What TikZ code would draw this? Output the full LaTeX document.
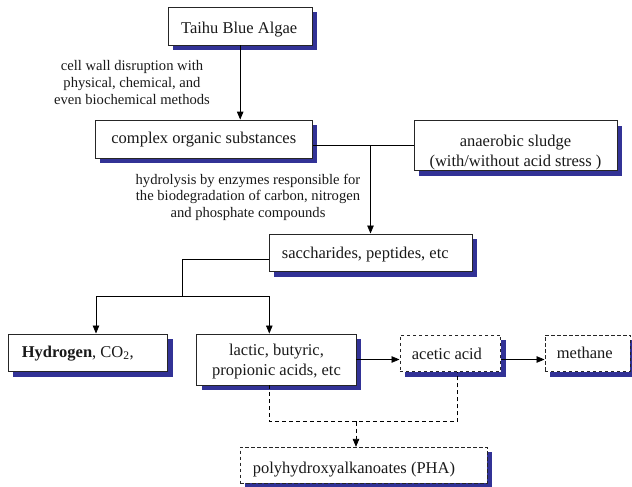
\documentclass[tikz,border=0pt]{standalone}
\usepackage{fontspec}
\setmainfont{Liberation Serif}
\usetikzlibrary{arrows.meta,shadows,calc}
\definecolor{shblue}{RGB}{50,50,150}
\begin{document}
\begin{tikzpicture}[x=1pt,y=-1pt,
  box/.style={draw=black!85, line width=0.9pt, fill=white, inner sep=0pt,
    drop shadow={shadow xshift=5pt, shadow yshift=-5pt, fill=shblue, opacity=1}},
  dbox/.style={box, dash pattern=on 3.5pt off 2.5pt},
  txt/.style={font=\fontsize{16.5}{20}\selectfont, inner sep=0pt, text=black!90, align=center},
  lbl/.style={font=\fontsize{14.6}{16.7}\selectfont, inner sep=0pt, text=black!90, align=center},
  conn/.style={line width=0.8pt},
  arr/.style={conn, -{Triangle[length=8pt,width=6.5pt]}},
  dconn/.style={conn, dash pattern=on 4pt off 3pt},
  darr/.style={arr, dash pattern=on 4pt off 3pt}]
\useasboundingbox (0,0) rectangle (632,487);

% boxes
\node[box, minimum width=143.7pt, minimum height=37.7pt] (T) at (240.2,26.2) {};
\node[box, minimum width=217.3pt, minimum height=38.3pt] (C) at (203.7,139.2) {};
\node[box, minimum width=203pt, minimum height=50pt] (S) at (515.5,145.7) {};
\node[box, minimum width=203pt, minimum height=37.7pt] (Sa) at (370.5,252.8) {};
\node[box, minimum width=159.4pt, minimum height=37.7pt] (H) at (88,352.8) {};
\node[box, minimum width=159.3pt, minimum height=51pt] (L) at (276.3,359.5) {};
\node[dbox, minimum width=100.7pt, minimum height=36.7pt] (A) at (450.3,353.3) {};
\node[dbox, minimum width=85.5pt, minimum height=36.7pt] (M) at (587.7,353.3) {};
\node[dbox, minimum width=247.3pt, minimum height=36pt] (P) at (363.7,465.3) {};

% texts (anchor base = baseline of the last line)
\node[txt, anchor=base] (tT) at (239.2,33.3) {Taihu Blue Algae};
\node[txt, anchor=base] (tC) at (203.8,143.3) {complex organic substances};
\node[txt, anchor=base] (tS) at (515.5,166) {anaerobic sludge\\(with/without acid stress )};
\node[txt, anchor=base west] (tSa) at (281.7,258.3) {saccharides, peptides, etc};
\node[txt, anchor=base west] (tH) at (21.7,357.3) {\textbf{Hydrogen}, CO\textsubscript{2},};
\node[txt, anchor=base] (tL) at (276.5,375.5) {lactic, butyric,\\propionic acids, etc};
\node[txt, anchor=base west] (tA) at (411.7,359.3) {acetic acid};
\node[txt, anchor=base west] (tM) at (556.7,358.3) {methane};
\node[txt, anchor=base west] (tP) at (252.7,473.3) {polyhydroxyalkanoates (PHA)};

\node[lbl, anchor=base] (l1) at (132,104) {cell wall disruption with\\physical, chemical, and\\even biochemical methods};
\node[lbl, anchor=base] (l2) at (248,217.5) {hydrolysis by enzymes responsible for\\the biodegradation of carbon, nitrogen\\and phosphate compounds};

% connectors
\draw[arr] (T.south) -- (T.south |- C.north);
\draw[conn] (S.west) -- (S.west -| C.east);
\coordinate (j1) at (Sa.north |- S.west);
\draw[arr] (j1) -- (Sa.north);
\coordinate (sp) at (182.3,296.7);
\draw[conn] ([yshift=-6.5pt]Sa.west) -| (sp);
\draw[arr] (sp) -| ([xshift=8pt]H.north);
\draw[arr] (sp) -| ([xshift=-7pt]L.north);
\draw[arr] (L.east) -- (L.east -| A.west);
\draw[arr] (L.east -| A.east) -- (L.east -| M.west);
\coordinate (dm) at (356,421.7);
\draw[dconn] ([xshift=-7pt]L.south) |- (dm) -| ([xshift=7.4pt]A.south);
\draw[darr] (dm) -- (dm |- P.north);
\end{tikzpicture}
\end{document}
